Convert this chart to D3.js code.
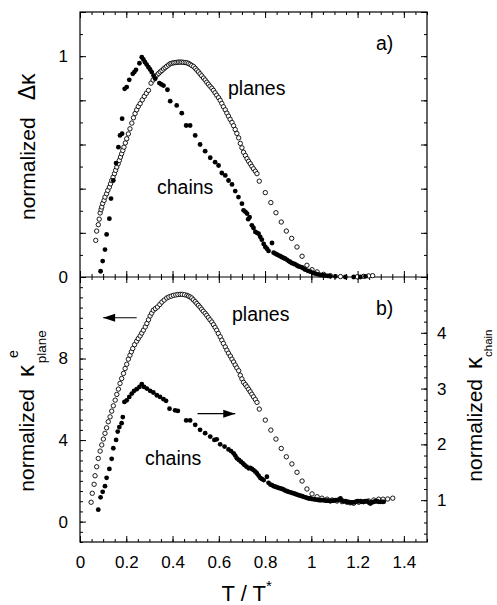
<!DOCTYPE html>
<html><head><meta charset="utf-8">
<script src="https://cdn.jsdelivr.net/npm/d3@7"></script>
<style>
body{margin:0;background:#fff;}
svg{display:block;}
text{font-family:"Liberation Sans",Arial,Helvetica,sans-serif;fill:#000;}
</style></head>
<body><svg id="c" width="497" height="605"></svg>
<script>
// ---------- DATA ----------
// Panel a): normalized Delta kappa vs T/T*
const planesA = [[0.068,0.166],[0.072,0.208],[0.079,0.237],[0.083,0.262],[0.087,0.290],[0.091,0.305],[0.094,0.317],[0.098,0.333],[0.104,0.347],[0.108,0.362],[0.115,0.377],[0.120,0.392],[0.127,0.407],[0.132,0.422],[0.137,0.437],[0.143,0.452],[0.149,0.468],[0.154,0.483],[0.159,0.498],[0.165,0.513],[0.170,0.528],[0.175,0.543],[0.180,0.558],[0.185,0.573],[0.190,0.588],[0.196,0.607],[0.202,0.626],[0.209,0.648],[0.216,0.671],[0.224,0.697],[0.231,0.721],[0.238,0.740],[0.245,0.757],[0.252,0.772],[0.260,0.785],[0.269,0.802],[0.278,0.818],[0.287,0.832],[0.296,0.845],[0.307,0.878],[0.316,0.892],[0.325,0.905],[0.333,0.915],[0.340,0.922],[0.347,0.929],[0.354,0.935],[0.361,0.942],[0.368,0.948],[0.375,0.954],[0.383,0.960],[0.390,0.966],[0.397,0.968],[0.404,0.970],[0.411,0.971],[0.419,0.972],[0.426,0.973],[0.433,0.973],[0.440,0.973],[0.447,0.972],[0.455,0.971],[0.462,0.970],[0.469,0.967],[0.476,0.963],[0.483,0.958],[0.491,0.953],[0.498,0.945],[0.505,0.937],[0.512,0.929],[0.519,0.920],[0.526,0.911],[0.534,0.901],[0.541,0.892],[0.548,0.882],[0.555,0.873],[0.562,0.864],[0.570,0.855],[0.577,0.845],[0.584,0.834],[0.591,0.823],[0.599,0.812],[0.606,0.800],[0.613,0.786],[0.620,0.771],[0.628,0.757],[0.635,0.742],[0.642,0.728],[0.649,0.714],[0.657,0.700],[0.664,0.685],[0.671,0.668],[0.678,0.650],[0.686,0.630],[0.693,0.605],[0.700,0.585],[0.707,0.565],[0.715,0.550],[0.722,0.536],[0.729,0.524],[0.736,0.513],[0.743,0.501],[0.750,0.490],[0.758,0.479],[0.765,0.468],[0.775,0.434],[0.801,0.382],[0.825,0.337],[0.847,0.291],[0.870,0.249],[0.892,0.208],[0.915,0.175],[0.938,0.136],[0.960,0.094],[0.981,0.053],[1.003,0.033],[1.025,0.023],[1.053,0.012],[1.082,0.006],[1.126,0.002],[1.198,0.001],[1.226,0.003],[1.248,0.005],[1.265,0.006]];
const chainsA = [[0.089,0.026],[0.098,0.072],[0.108,0.124],[0.115,0.193],[0.127,0.264],[0.134,0.355],[0.144,0.437],[0.156,0.516],[0.166,0.588],[0.173,0.641],[0.182,0.649],[0.182,0.717],[0.193,0.852],[0.202,0.860],[0.213,0.893],[0.228,0.920],[0.235,0.928],[0.242,0.938],[0.257,0.968],[0.267,0.995],[0.274,0.985],[0.281,0.973],[0.288,0.962],[0.296,0.950],[0.303,0.940],[0.310,0.928],[0.318,0.912],[0.325,0.898],[0.343,0.878],[0.352,0.872],[0.361,0.867],[0.378,0.848],[0.390,0.796],[0.418,0.777],[0.440,0.742],[0.459,0.686],[0.476,0.686],[0.498,0.641],[0.519,0.600],[0.541,0.570],[0.563,0.540],[0.584,0.520],[0.599,0.505],[0.613,0.471],[0.628,0.460],[0.642,0.437],[0.657,0.419],[0.671,0.389],[0.685,0.362],[0.700,0.332],[0.707,0.302],[0.715,0.295],[0.722,0.287],[0.727,0.262],[0.733,0.271],[0.743,0.234],[0.750,0.222],[0.758,0.204],[0.765,0.200],[0.772,0.196],[0.779,0.182],[0.786,0.169],[0.794,0.150],[0.801,0.136],[0.808,0.128],[0.815,0.118],[0.830,0.154],[0.837,0.110],[0.844,0.106],[0.851,0.102],[0.858,0.098],[0.866,0.094],[0.873,0.090],[0.880,0.086],[0.887,0.083],[0.895,0.078],[0.902,0.072],[0.909,0.068],[0.916,0.063],[0.924,0.060],[0.931,0.057],[0.938,0.052],[0.945,0.048],[0.952,0.046],[0.960,0.043],[0.967,0.038],[0.974,0.033],[0.985,0.028],[0.996,0.024],[1.007,0.019],[1.017,0.015],[1.028,0.012],[1.039,0.009],[1.050,0.008],[1.061,0.006],[1.072,0.005],[1.082,0.003],[1.104,0.003],[1.147,0.0],[1.183,0.0],[1.212,0.0],[1.234,0.003]];
// Panel b): planes on left axis (normalized kappa^e_plane), chains on right axis (normalized kappa_chain)
const planesB = [[0.048,0.95],[0.053,1.39],[0.061,1.83],[0.065,2.25],[0.072,2.69],[0.079,3.10],[0.087,3.46],[0.094,3.76],[0.101,4.05],[0.108,4.33],[0.115,4.60],[0.122,4.90],[0.130,5.14],[0.137,5.42],[0.144,5.68],[0.152,5.96],[0.159,6.24],[0.166,6.50],[0.173,6.78],[0.180,7.02],[0.188,7.27],[0.195,7.51],[0.202,7.72],[0.209,7.97],[0.216,8.16],[0.222,8.33],[0.228,8.49],[0.236,8.68],[0.245,8.85],[0.252,8.98],[0.260,9.11],[0.267,9.25],[0.274,9.39],[0.282,9.55],[0.289,9.72],[0.296,9.90],[0.303,10.09],[0.310,10.23],[0.317,10.37],[0.326,10.45],[0.335,10.53],[0.345,10.65],[0.354,10.77],[0.364,10.87],[0.375,10.97],[0.384,11.02],[0.394,11.06],[0.404,11.10],[0.414,11.12],[0.423,11.14],[0.433,11.15],[0.442,11.15],[0.452,11.13],[0.462,11.10],[0.469,11.06],[0.476,11.02],[0.483,10.97],[0.490,10.88],[0.498,10.79],[0.505,10.70],[0.512,10.61],[0.519,10.52],[0.526,10.42],[0.533,10.32],[0.541,10.22],[0.548,10.12],[0.555,10.01],[0.562,9.90],[0.570,9.79],[0.577,9.66],[0.584,9.53],[0.591,9.39],[0.598,9.23],[0.606,9.07],[0.613,8.90],[0.620,8.74],[0.628,8.57],[0.635,8.41],[0.642,8.26],[0.650,8.12],[0.657,7.97],[0.664,7.83],[0.671,7.68],[0.678,7.54],[0.686,7.40],[0.693,7.18],[0.700,7.00],[0.707,6.83],[0.715,6.72],[0.722,6.61],[0.729,6.49],[0.736,6.37],[0.743,6.25],[0.750,6.12],[0.758,5.99],[0.765,5.85],[0.775,5.52],[0.801,4.98],[0.825,4.49],[0.847,4.05],[0.870,3.59],[0.892,3.18],[0.916,2.83],[0.938,2.42],[0.960,1.99],[0.981,1.60],[1.003,1.36],[1.025,1.22],[1.046,1.15],[1.068,1.10],[1.090,1.06],[1.111,1.01],[1.133,0.98],[1.154,0.95],[1.168,0.92],[1.183,0.90],[1.205,0.95],[1.226,0.98],[1.248,1.01],[1.270,1.06],[1.291,1.10],[1.310,1.10],[1.330,1.11],[1.352,1.15]];
const chainsB = [[0.079,0.83],[0.089,1.05],[0.098,1.15],[0.108,1.25],[0.115,1.40],[0.127,1.56],[0.137,1.74],[0.144,1.93],[0.156,2.08],[0.163,2.23],[0.170,2.31],[0.180,2.38],[0.185,2.49],[0.192,2.76],[0.202,2.79],[0.213,2.85],[0.224,2.91],[0.234,2.96],[0.245,2.99],[0.257,3.03],[0.267,3.08],[0.277,3.03],[0.289,3.00],[0.303,2.96],[0.317,2.93],[0.332,2.88],[0.346,2.85],[0.361,2.81],[0.372,2.78],[0.387,2.64],[0.411,2.61],[0.423,2.60],[0.459,2.43],[0.476,2.43],[0.498,2.35],[0.519,2.26],[0.541,2.20],[0.563,2.14],[0.581,2.08],[0.591,2.09],[0.606,2.00],[0.625,1.96],[0.642,1.91],[0.653,1.88],[0.664,1.84],[0.671,1.80],[0.678,1.75],[0.687,1.72],[0.696,1.69],[0.704,1.66],[0.711,1.63],[0.720,1.60],[0.729,1.57],[0.736,1.58],[0.743,1.56],[0.750,1.54],[0.758,1.51],[0.765,1.48],[0.772,1.44],[0.779,1.40],[0.786,1.38],[0.794,1.36],[0.808,1.42],[0.815,1.31],[0.823,1.28],[0.830,1.27],[0.837,1.25],[0.845,1.24],[0.852,1.23],[0.859,1.22],[0.866,1.21],[0.874,1.20],[0.881,1.19],[0.888,1.17],[0.895,1.16],[0.902,1.15],[0.909,1.14],[0.917,1.13],[0.924,1.12],[0.931,1.11],[0.938,1.10],[0.945,1.09],[0.952,1.08],[0.960,1.07],[0.967,1.06],[0.974,1.05],[0.981,1.04],[0.989,1.03],[0.996,1.03],[1.003,1.02],[1.010,1.02],[1.017,1.01],[1.025,1.01],[1.032,1.00],[1.039,1.00],[1.046,1.00],[1.053,1.00],[1.061,0.99],[1.068,0.99],[1.075,0.99],[1.082,0.98],[1.090,0.99],[1.097,0.99],[1.104,1.00],[1.111,1.00],[1.119,1.01],[1.126,1.03],[1.133,0.99],[1.140,0.98],[1.147,0.98],[1.154,0.97],[1.161,0.97],[1.169,0.96],[1.176,0.96],[1.183,0.96],[1.190,0.97],[1.198,0.98],[1.205,0.98],[1.212,0.98],[1.219,0.97],[1.226,0.97],[1.234,0.98],[1.241,0.98],[1.248,0.96],[1.255,0.94],[1.262,0.96],[1.270,0.97],[1.277,0.98],[1.284,0.98],[1.291,0.97],[1.299,0.97],[1.306,0.97],[1.313,0.97]];

// tick values and labels
const xMajor = [0,0.2,0.4,0.6,0.8,1.0,1.2,1.4];
const xMinor = [0,0.05,0.1,0.15,0.2,0.25,0.3,0.35,0.4,0.45,0.5,0.55,0.6,0.65,0.7,0.75,0.8,0.85,0.9,0.95,1.0,1.05,1.1,1.15,1.2,1.25,1.3,1.35,1.4,1.45,1.5];
const xLabels = ["0","0.2","0.4","0.6","0.8","1","1.2","1.4"];
const aMajor = [0,0.2,0.4,0.6,0.8,1.0,1.2];
const aMinor = [0,0.1,0.2,0.3,0.4,0.5,0.6,0.7,0.8,0.9,1.0,1.1,1.2];
const aLabels = {0:"0",1:"1"};
const bLeftMajor = [0,4,8];
const bLeftMinor = [-1,-0.5,0,0.5,1,1.5,2,2.5,3,3.5,4,4.5,5,5.5,6,6.5,7,7.5,8,8.5,9,9.5,10,10.5,11,11.5,12];
const bLeftLabels = ["0","4","8"];
const bRightMajor = [1,2,3,4];
const bRightMinor = [0.4,0.6,0.8,1.0,1.2,1.4,1.6,1.8,2.0,2.2,2.4,2.6,2.8,3.0,3.2,3.4,3.6,3.8,4.0,4.2,4.4,4.6,4.8,5.0];
const bRightLabels = ["1","2","3","4"];

// ---------- LAYOUT ----------
const L=80, R=427, T0=12, M=277, B=542;
const FONT = 17;
const svg = d3.select("#c");
const x = d3.scaleLinear().domain([0,1.5]).range([L,R]);
const yA = d3.scaleLinear().domain([0,1.2]).range([M,T0]);
const yBL = d3.scaleLinear().domain([-1,12]).range([B,M]);
const yBR = d3.scaleLinear().domain([0.25,5]).range([B,M]);

function styleAxis(g){
  g.select(".domain").remove();
  g.selectAll(".tick line").attr("stroke","#000").attr("stroke-width",1);
  g.selectAll(".tick text").attr("font-size",FONT).attr("fill","#000")
   .attr("font-family","Liberation Sans, Arial, Helvetica, sans-serif");
}
function addAxis(axis, tx, ty){
  const g = svg.append("g").attr("transform",`translate(${tx},${ty})`).call(axis);
  styleAxis(g); return g;
}
// x axes (bottom, middle both directions, top)
addAxis(d3.axisBottom(x).tickValues(xMinor).tickSize(-3).tickSizeOuter(0).tickFormat(""),0,B);
addAxis(d3.axisBottom(x).tickValues(xMajor).tickSize(-6).tickSizeOuter(0).tickPadding(14).tickFormat((d,i)=>xLabels[i]),0,B);
addAxis(d3.axisBottom(x).tickValues(xMinor).tickSize(-3).tickSizeOuter(0).tickFormat(""),0,M);
addAxis(d3.axisBottom(x).tickValues(xMajor).tickSize(-6).tickSizeOuter(0).tickFormat(""),0,M);
addAxis(d3.axisTop(x).tickValues(xMinor).tickSize(-3).tickSizeOuter(0).tickFormat(""),0,M);
addAxis(d3.axisTop(x).tickValues(xMajor).tickSize(-6).tickSizeOuter(0).tickFormat(""),0,M);
addAxis(d3.axisTop(x).tickValues(xMinor).tickSize(-3).tickSizeOuter(0).tickFormat(""),0,T0);
addAxis(d3.axisTop(x).tickValues(xMajor).tickSize(-6).tickSizeOuter(0).tickFormat(""),0,T0);
// panel a y axes
addAxis(d3.axisLeft(yA).tickValues(aMinor).tickSize(-3).tickSizeOuter(0).tickFormat(""),L,0);
addAxis(d3.axisLeft(yA).tickValues(aMajor).tickSize(-6).tickSizeOuter(0).tickPadding(12).tickFormat(d=>aLabels[d]||""),L,0);
addAxis(d3.axisRight(yA).tickValues(aMinor).tickSize(-3).tickSizeOuter(0).tickFormat(""),R,0);
addAxis(d3.axisRight(yA).tickValues(aMajor).tickSize(-6).tickSizeOuter(0).tickFormat(""),R,0);
// panel b y axes
addAxis(d3.axisLeft(yBL).tickValues(bLeftMinor).tickSize(-3).tickSizeOuter(0).tickFormat(""),L,0);
addAxis(d3.axisLeft(yBL).tickValues(bLeftMajor).tickSize(-6).tickSizeOuter(0).tickPadding(12).tickFormat((d,i)=>bLeftLabels[i]),L,0);
addAxis(d3.axisRight(yBR).tickValues(bRightMinor).tickSize(-3).tickSizeOuter(0).tickFormat(""),R,0);
addAxis(d3.axisRight(yBR).tickValues(bRightMajor).tickSize(-6).tickSizeOuter(0).tickPadding(10).tickFormat((d,i)=>bRightLabels[i]),R,0);

// frames
svg.append("rect").attr("x",L).attr("y",T0).attr("width",R-L).attr("height",B-T0)
  .attr("fill","none").attr("stroke","#000").attr("stroke-width",1.2);
svg.append("line").attr("x1",L).attr("x2",R).attr("y1",M).attr("y2",M)
  .attr("stroke","#000").attr("stroke-width",1.2);

// data markers
function openPts(data, ys){
  svg.append("g").selectAll("circle").data(data).join("circle")
    .attr("cx",d=>x(d[0])).attr("cy",d=>ys(d[1])).attr("r",2.2)
    .attr("fill","#fff").attr("stroke","#000").attr("stroke-width",0.9);
}
function filledPts(data, ys){
  svg.append("g").selectAll("circle").data(data).join("circle")
    .attr("cx",d=>x(d[0])).attr("cy",d=>ys(d[1])).attr("r",2.4)
    .attr("fill","#000");
}
openPts(planesA, yA);
filledPts(chainsA, yA);
openPts(planesB, yBL);
filledPts(chainsB, yBR);

// arrows
function arrow(x1,y1,x2,y2){
  svg.append("line").attr("x1",x1).attr("y1",y1).attr("x2",x2).attr("y2",y2)
    .attr("stroke","#000").attr("stroke-width",1.2);
  const dir = Math.sign(x2-x1), hl=12, hw=4;
  svg.append("path").attr("d",`M${x2},${y2} L${x2-dir*hl},${y2-hw} L${x2-dir*hl},${y2+hw} Z`).attr("fill","#000");
}
arrow(x(0.245), yBL(10), x(0.10), yBL(10));
arrow(x(0.508), yBR(2.55), x(0.671), yBR(2.55));

// panel texts
const TXT = 19.5;
function label(t, px, py, size, anchor){
  svg.append("text").attr("x",px).attr("y",py).attr("font-size",size)
    .attr("text-anchor",anchor||"start").text(t);
}
label("a)", 376, 50, TXT);
label("planes", 228, 94.5, TXT);
label("chains", 157, 193.5, TXT);
label("b)", 376, 315, TXT);
label("planes", 232, 321, TXT);
label("chains", 145, 465, TXT);

// axis titles
const TT = 21;
// top-left
const t1 = svg.append("text").attr("transform","translate(35,220) rotate(-90)").attr("font-size",TT);
t1.append("tspan").text("normalized");
t1.append("tspan").attr("dx",17).attr("font-size",23).text("Δκ");
// bottom-left
const t2 = svg.append("text").attr("transform","translate(33.5,491.7) rotate(-90)").attr("font-size",TT);
t2.append("tspan").text("normalized");
t2.append("tspan").attr("dx",12).attr("font-size",24).text("κ");
t2.append("tspan").attr("dx",7).attr("dy",-16).attr("font-size",14).text("e");
t2.append("tspan").attr("dx",-13).attr("dy",28).attr("font-size",13.5).text("plane");
// bottom-right
const t3 = svg.append("text").attr("transform","translate(482,481.7) rotate(-90)").attr("font-size",TT);
t3.append("tspan").text("normalized");
t3.append("tspan").attr("dx",10).attr("font-size",24).text("κ");
t3.append("tspan").attr("dx",0).attr("dy",10).attr("font-size",11.5).text("chain");
// x title
const t4 = svg.append("text").attr("x",221.5).attr("y",601).attr("font-size",22);
t4.append("tspan").text("T / T");
t4.append("tspan").attr("dy",-10).attr("font-size",15).text("*");
</script></body></html>
